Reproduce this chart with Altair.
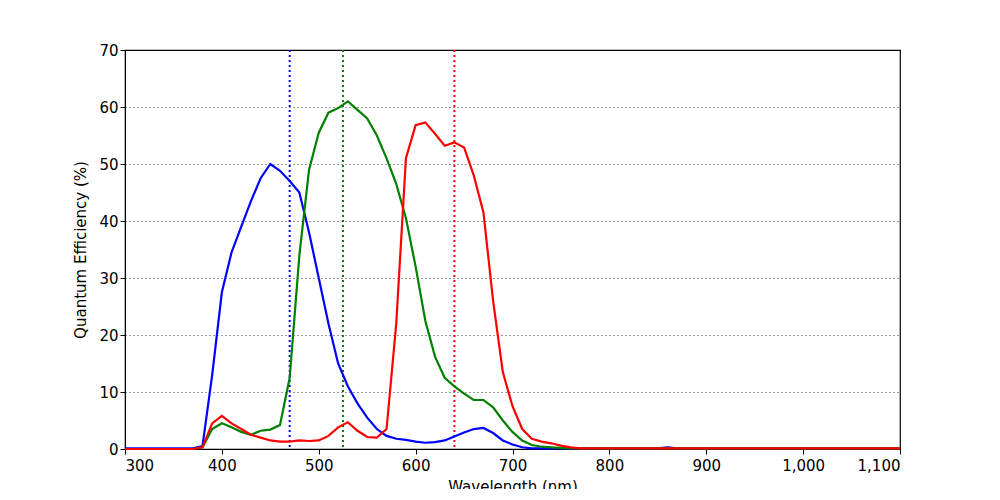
import altair as alt
import pandas as pd

wl = list(range(300, 1110, 10))
blue_main = [0.1]*8 + [0.5, 13, 27.5, 34.5, 39, 43.5, 47.5, 50, 48.8, 47, 45, 38, 30, 22, 15, 11, 8, 5.5, 3.5, 2.3,
             1.8, 1.6, 1.3, 1.1, 1.2, 1.5, 2.2, 2.9, 3.5, 3.7, 2.8, 1.5, 0.8, 0.3, 0.1]
green_main = [0.0]*8 + [0.3, 3.5, 4.5, 3.8, 3.0, 2.5, 3.2, 3.4, 4.2, 12.5, 34, 49, 55.5, 59, 59.8, 61, 59.5, 58, 55, 51,
              46.5, 40.5, 32, 22.5, 16.2, 12.5, 11, 9.7, 8.6, 8.6, 7.3, 5, 3, 1.5, 0.7, 0.4, 0.3, 0.2, 0.1]
red_main = [0.0]*8 + [0.3, 4.5, 5.8, 4.5, 3.5, 2.5, 2.0, 1.5, 1.3, 1.3, 1.5, 1.4, 1.5, 2.3, 3.8, 4.7, 3.2, 2.1, 2.0, 3.5,
            22, 51, 56.8, 57.3, 55.3, 53.2, 53.8, 52.9, 48, 41.5, 26, 13.5, 7.5, 3.5, 1.8, 1.3, 1.0, 0.6, 0.3, 0.1]

def pad(a, fill):
    return a + [fill]*(len(wl)-len(a))

blue = pad(blue_main, 0.1)
blue[wl.index(860)] = 0.3
green = pad(green_main, 0.1)
red = pad(red_main, 0.1)

peaks = [470, 525, 640]
peak_colors = ["blue", "green", "red"]

rows = []
for name, vals in [("blue", blue), ("green", green), ("red", red)]:
    for w, v in zip(wl, vals):
        rows.append({"wl": w, "qe": v, "ch": name})
df = pd.DataFrame(rows)
vdf = pd.DataFrame({"wl": peaks, "ch": peak_colors})

cscale = alt.Scale(domain=["blue", "green", "red"], range=["#0000ff", "#008000", "#ff0000"])
xscale = alt.Scale(domain=[300, 1100], nice=False, zero=False)
x = alt.X("wl:Q", scale=xscale,
          axis=alt.Axis(title="Wavelength (nm)", values=list(range(300, 1101, 100)), grid=False,
                        labelPadding=4, titlePadding=6))
y = alt.Y("qe:Q", scale=alt.Scale(domain=[0, 70], nice=False),
          axis=alt.Axis(title="Quantum Efficiency (%)", values=list(range(0, 71, 10)), grid=True,
                        gridColor="black", gridDash=[1, 3], gridOpacity=0.8, titlePadding=10))

lines = alt.Chart(df).mark_line(strokeWidth=2.2).encode(
    x=x, y=y, color=alt.Color("ch:N", scale=cscale, legend=None), detail="ch:N")
vlines = alt.Chart(vdf).mark_rule(strokeDash=[2, 3], strokeWidth=2).encode(
    x=alt.X("wl:Q", scale=xscale), color=alt.Color("ch:N", scale=cscale, legend=None))

chart = (vlines + lines).resolve_scale(x="shared").properties(
    width=775, height=399, autosize="none",
    padding={"left": 117, "top": 42, "right": 60, "bottom": 40}
).configure_view(stroke="black", strokeWidth=1.2).configure_axis(
    labelFont="DejaVu Sans", titleFont="DejaVu Sans", labelFontSize=15, titleFontSize=15,
    titleFontWeight="normal", labelColor="black", titleColor="black",
    domainColor="black", tickColor="black", tickSize=5
)
chart.save("out.html", embed_options={"renderer": "svg", "actions": False})
